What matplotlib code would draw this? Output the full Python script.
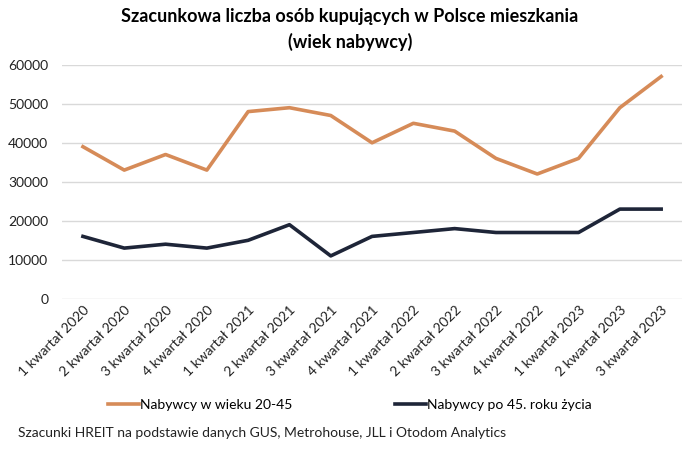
import matplotlib.pyplot as plt
import numpy as np

plt.rcParams['font.family'] = ['Lato', 'DejaVu Sans']

kwartaly = ["1 kwartał 2020", "2 kwartał 2020", "3 kwartał 2020", "4 kwartał 2020",
            "1 kwartał 2021", "2 kwartał 2021", "3 kwartał 2021", "4 kwartał 2021",
            "1 kwartał 2022", "2 kwartał 2022", "3 kwartał 2022", "4 kwartał 2022",
            "1 kwartał 2023", "2 kwartał 2023", "3 kwartał 2023"]
wiek_20_45 = [39000, 33000, 37000, 33000, 48000, 49000, 47000, 40000,
              45000, 43000, 36000, 32000, 36000, 49000, 57000]
po_45 = [16000, 13000, 14000, 13000, 15000, 19000, 11000, 16000,
         17000, 18000, 17000, 17000, 17000, 23000, 23000]

fig = plt.figure(figsize=(7, 4.5), dpi=100)
ax = fig.add_axes([0.089, 0.336, 0.885, 0.52])

x = np.arange(len(kwartaly))
l1, = ax.plot(x, wiek_20_45, color='#D68B58', lw=2.6, label='Nabywcy w wieku 20-45')
l2, = ax.plot(x, po_45, color='#1E2538', lw=2.6, label='Nabywcy po 45. roku życia')

ax.set_xlim(-0.5, len(kwartaly) - 0.5)
ax.set_ylim(0, 60000)
ax.set_yticks(range(0, 60001, 10000))
ax.yaxis.grid(True, color='#D9D9D9', lw=1)
ax.set_axisbelow(True)
for s in ax.spines.values():
    s.set_visible(False)
ax.tick_params(length=0, labelsize=10, colors='#222222')
ax.tick_params(axis='y', pad=10)
ax.set_xticks(x)
ax.set_xticklabels(kwartaly, rotation=45, ha='right', rotation_mode='anchor')

fig.text(0.5, 0.935, "Szacunkowa liczba osób kupujących w Polsce mieszkania\n(wiek nabywcy)",
         ha='center', va='center', fontsize=13, fontweight='bold', linespacing=1.5)

fig.legend(handles=[l1, l2], loc='center', bbox_to_anchor=(0.5, 0.1), ncol=2,
           frameon=False, fontsize=10, handlelength=2.2, handletextpad=0.1, columnspacing=7.4)
fig.text(0.026, 0.028, "Szacunki HREIT na podstawie danych GUS, Metrohouse, JLL i Otodom Analytics",
         fontsize=10, color='#222222')

fig.savefig('out.png', dpi=100)
